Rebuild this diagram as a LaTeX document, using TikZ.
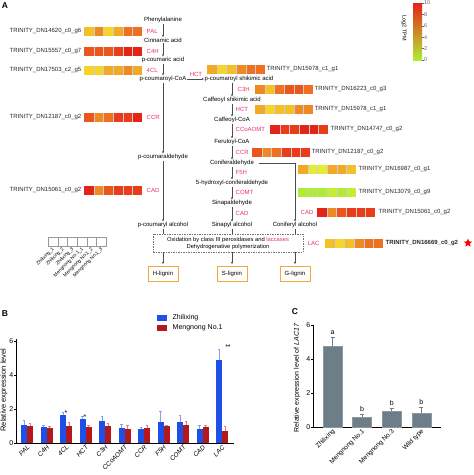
\documentclass[tikz,border=0pt]{standalone}
\usepackage{fontspec}
\setmainfont{Liberation Sans}
\usetikzlibrary{arrows.meta,positioning,shapes.geometric}
\definecolor{enz}{HTML}{E4326C}
\definecolor{hgr}{HTML}{B0EC34}
\definecolor{hlg}{HTML}{C2EE34}
\definecolor{hly}{HTML}{E6EC34}
\definecolor{hye}{HTML}{F6D42A}
\definecolor{hgo}{HTML}{F4C028}
\definecolor{hlo}{HTML}{F2AA26}
\definecolor{hor}{HTML}{EF8A22}
\definecolor{hdo}{HTML}{EE7020}
\definecolor{hro}{HTML}{EC561C}
\definecolor{hrd}{HTML}{E93C1A}
\definecolor{hdr}{HTML}{E52418}
\definecolor{ligbox}{HTML}{F2A93B}
\definecolor{zblue}{HTML}{1E4FE6}
\definecolor{mred}{HTML}{B3191C}
\definecolor{cbar}{HTML}{6E7E88}
\newcommand\heatrow[3]{%
  \foreach \hc [count=\i from 0] in {#3}
    \fill[\hc] ({#1+9.7*\i},{#2-4.5}) rectangle ++(9.7,9);
  \foreach \i in {1,...,5}
    \draw[white!80!black, line width=0.2pt] ({#1+9.7*\i},{#2-4.5}) -- ++(0,9);}

\begin{document}
\begin{tikzpicture}[x=1pt, y=-1pt,
    font=\fontsize{6}{7}\selectfont, inner sep=0.5pt,
    enzlab/.style={text=enz},
    gene/.style={text=black!85},
    path/.style={-{Stealth[length=2.4pt,width=2pt]}, draw=black!70, line width=0.35pt},
    link/.style={draw=black!70, line width=0.35pt},
    lig/.style={draw=ligbox, line width=0.9pt, minimum width=30, minimum height=15, inner sep=1pt},
    panel/.style={font=\fontsize{8.5}{9}\bfseries},
    tick/.style={font=\fontsize{7}{8}\selectfont}]
    \useasboundingbox (0,0) rectangle (474,475);
    \node[panel] (pA) at (5,6) {A};
    \node[gene, anchor=east] (g1) at (82,31) {TRINITY\_DN14620\_c0\_g6};
    \node[gene, anchor=east] (g2) at (82,51) {TRINITY\_DN15557\_c0\_g7};
    \node[gene, anchor=east] (g3) at (82,70) {TRINITY\_DN17503\_c2\_g5};
    \node[gene, anchor=east] (g4) at (82,117) {TRINITY\_DN12187\_c0\_g2};
    \node[gene, anchor=east] (g5) at (82,190) {TRINITY\_DN15061\_c0\_g2};
    \heatrow{84}{31}{hgo,hor,hye,hlo,hdo,hdo}
    \heatrow{84}{51}{hro,hro,hro,hrd,hdr,hdr}
    \heatrow{84}{70}{hye,hye,hlo,hlo,hor,hlo}
    \heatrow{84}{117}{hro,hor,hdo,hrd,hrd,hdr}
    \heatrow{84}{190}{hdr,hor,hro,hrd,hrd,hrd}
    \node[enzlab, anchor=west] (pal) at (146,31) {PAL};
    \node[enzlab, anchor=west] (c4h) at (146,51) {C4H};
    \node[enzlab, anchor=west] (fcl) at (146,70) {4CL};
    \node[enzlab, anchor=west] (ccra) at (146,117) {CCR};
    \node[enzlab, anchor=west] (cada) at (146,190) {CAD};
    \node (phe) at (163,20) {Phenylalanine};
    \node (cin) at (163,40) {Cinnamic acid};
    \node (pca) at (163,60) {p-coumaric acid};
    \node (pcoa) at (163,79) {p-coumaroyl-CoA};
    \node (pald) at (163,157) {p-coumaraldehyde};
    \node (palc) at (163,225) {p-coumaryl alcohol};
    \node (pcsa) at (239,79) {p-coumaroyl shikimic acid};
    \node (csa) at (232,100) {Caffeoyl shikimic acid};
    \node (ccoa) at (232,120) {Caffeoyl-CoA};
    \node (fcoa) at (232,142) {Feruloyl-CoA};
    \node (cald) at (232,163) {Coniferaldehyde};
    \node (hcald) at (232,183) {5-hydroxyl-coniferaldehyde};
    \node (sald) at (232,203) {Sinapaldehyde};
    \node (salc) at (232,225) {Sinapyl alcohol};
    \node (calc) at (295,225) {Coniferyl alcohol};
    \draw[path] (phe) -- (cin);
    \draw[path] (cin) -- (pca);
    \draw[path] (pca) -- (pcoa);
    \draw[path] (pcoa) -- (pald);
    \draw[path] (pald) -- (palc);
    \draw[path] (pcoa) -- (pcsa);
    \draw[path] (pcsa.south -| csa) -- (csa);
    \draw[path] (csa) -- (ccoa);
    \draw[path] (ccoa) -- (fcoa);
    \draw[path] (fcoa) -- (cald);
    \draw[path] (cald) -- (hcald);
    \draw[path] (hcald) -- (sald);
    \draw[path] (sald) -- (salc);
    \draw[path, shorten <=4pt] (cald.east) -| (calc.north);
    \node[enzlab] (hcta) at (196,74) {HCT};
    \node[enzlab, anchor=west] (c3h) at (237,89) {C3H};
    \node[enzlab, anchor=west] (hctb) at (235,109) {HCT};
    \node[enzlab, anchor=west] (ccoaomt) at (235,129) {CCoAOMT};
    \node[enzlab, anchor=west] (ccrb) at (235,152) {CCR};
    \node[enzlab, anchor=west] (f5h) at (235,172) {F5H};
    \node[enzlab, anchor=west] (comt) at (235,192) {COMT};
    \node[enzlab, anchor=west] (cadb) at (235,213) {CAD};
    \node[enzlab, anchor=west] (cadc) at (300,212) {CAD};
    \node[enzlab, anchor=west] (lac) at (307,243) {LAC};
    \heatrow{207}{69}{hlo,hye,hgo,hor,hdo,hdo}
    \heatrow{255}{89}{hor,hgo,hdo,hro,hro,hdo}
    \heatrow{255}{109}{hlo,hye,hgo,hgo,hor,hor}
    \heatrow{270}{129}{hdr,hrd,hrd,hdr,hdr,hrd}
    \heatrow{252}{152}{hro,hor,hdo,hrd,hrd,hrd}
    \heatrow{298}{169}{hlo,hly,hly,hlo,hlo,hgo}
    \heatrow{298}{192}{hgr,hgr,hgr,hlg,hgr,hlg}
    \heatrow{317}{212}{hdr,hor,hro,hrd,hrd,hrd}
    \heatrow{325}{243}{hgo,hye,hgo,hor,hdo,hdo}
    \node[gene, anchor=west] (g6) at (266,69) {TRINITY\_DN15978\_c1\_g1};
    \node[gene, anchor=west] (g7) at (314,89) {TRINITY\_DN16223\_c0\_g3};
    \node[gene, anchor=west] (g8) at (314,109) {TRINITY\_DN15978\_c1\_g1};
    \node[gene, anchor=west] (g9) at (330,129) {TRINITY\_DN14747\_c0\_g2};
    \node[gene, anchor=west] (g10) at (311,152) {TRINITY\_DN12187\_c0\_g2};
    \node[gene, anchor=west] (g11) at (358,169) {TRINITY\_DN16987\_c0\_g1};
    \node[gene, anchor=west] (g12) at (358,192) {TRINITY\_DN13079\_c0\_g9};
    \node[gene, anchor=west] (g13) at (378,212) {TRINITY\_DN15061\_c0\_g2};
    \node[gene, anchor=west, font=\fontsize{6}{7}\bfseries] (g14) at (385,243) {TRINITY\_DN16669\_c0\_g2};
    \node[star, star points=5, star point ratio=2.3, fill=red, minimum size=9, inner sep=0] (lacstar) at (468,243) {};
    \node[draw=black!55, dash pattern=on 1.5pt off 1pt, minimum width=150, minimum height=18,
      inner sep=0, align=center, font=\fontsize{5.8}{7}\selectfont] (ox) at (228,243)
      {Oxidation by class III peroxidases and \textcolor{enz}{laccases}\\Dehydrogenative polymerization};
    \draw[link] (palc) -- (palc |- ox.north);
    \draw[link] (salc) -- (salc |- ox.north);
    \draw[link] (calc) -- (calc |- ox.north);
    \node[lig] (hlig) at (163,274) {H-lignin};
    \node[lig] (slig) at (232,274) {S-lignin};
    \node[lig] (glig) at (295,274) {G-lignin};
    \draw[path, shorten >=2pt] (ox.south -| hlig) -- (hlig);
    \draw[path, shorten >=2pt] (ox.south -| slig) -- (slig);
    \draw[path, shorten >=2pt] (ox.south -| glig) -- (glig);
    \foreach \s [count=\i from 0] in {Zhilixing\_1,Zhilixing\_2,Zhilixing\_3,Mengnong No.1\_1,Mengnong No.1\_2,Mengnong No.1\_3} {
      \draw[black!40, line width=0.3pt] ({48+9.7*\i},237) rectangle ++(9.7,9);
      \node[rotate=45, anchor=east, font=\fontsize{4.8}{5}\selectfont] (smp\i) at ({54+9.7*\i},248) {\s};
    }
    \shade[top color=hdr, middle color=hye, bottom color=hgr] (413,3) rectangle (422,60);
    \foreach \v in {0,2,...,10}
      \draw[black!60, line width=0.3pt] (422,{60-5.7*\v}) -- ++(1.5,0) node[right, font=\fontsize{5.5}{6}\selectfont] (cb\v) {\v};
    \node[rotate=-90, font=\fontsize{5.5}{6}\selectfont] (cblab) at (404,28) {Log2 TPM};

    \node[panel] (pB) at (5,314) {B};
    \fill[zblue] (157,315) rectangle (167,321);
    \fill[mred] (157,325) rectangle (167,331);
    \node[anchor=west, tick] (legz) at (172,318) {Zhilixing};
    \node[anchor=west, tick] (legm) at (172,328) {Mengnong No.1};
    \draw[line width=0.5pt] (16,339) -- (16,443) -- (234,443);
    \foreach \v in {0,2,4,6}
      \draw[line width=0.5pt] (16,{443-17*\v}) -- ++(-2,0) node[left, tick] (yb\v) {\v};
    \node[rotate=90, font=\fontsize{7.5}{8}\selectfont] (ylabB) at (4,390) {Relative expression level};
    \foreach \g/\b/\be/\r/\re [count=\i from 0] in {PAL/1.05/1.35/1.0/1.15, C4H/0.97/1.07/0.9/0.97,
        4CL/1.65/1.8/1.0/1.2, HCT/1.4/1.6/0.92/1.05, C3H/1.32/1.6/1.0/1.15, CCoAOMT/0.87/1.08/0.82/1.05,
        CCR/0.82/0.95/0.9/1.05, F5H/1.25/1.85/1.0/1.05, COMT/1.22/1.62/1.05/1.27,
        CAD/0.82/1.03/0.95/1.03, LAC/4.9/5.5/0.68/0.98} {
      \pgfmathsetmacro\cx{27+19.5*\i}
      \fill[zblue] ({\cx-6},443) rectangle ({\cx},{443-17*\b});
      \fill[mred] ({\cx},443) rectangle ({\cx+6},{443-17*\r});
      \draw[zblue!55, line width=0.5pt] ({\cx-3},{443-17*\b}) -- ({\cx-3},{443-17*\be}) ++(-1.3,0) -- ++(2.6,0);
      \draw[mred!55, line width=0.5pt] ({\cx+3},{443-17*\r}) -- ({\cx+3},{443-17*\re}) ++(-1.3,0) -- ++(2.6,0);
      \node[rotate=45, anchor=east, font=\fontsize{6.5}{7}\itshape] (xb\i) at ({\cx+2},446) {\g};
    }
    \node[tick] (sig1) at (66,413) {*};
    \node[tick] (sig2) at (85,417) {*};
    \node[tick] (sig3) at (228,347) {**};

    \node[panel] (pC) at (295,312) {C};
    \draw[line width=0.5pt] (313,325) -- (313,427) -- (441,427);
    \foreach \v in {0,2,4,6}
      \draw[line width=0.5pt] (313,{427-17*\v}) -- ++(-2,0) node[left, tick] (yc\v) {\v};
    \node[rotate=90, font=\fontsize{7}{8}\selectfont] (ylabC) at (297,378) {Relative expression level of \textit{LAC17}};
    \foreach \g/\v/\e/\l [count=\i from 0] in {Zhilixing/4.76/5.3/a, Mengnong No.1/0.6/0.75/b,
        Mengnong No.3/0.95/1.1/b, Wild type/0.82/1.17/b} {
      \pgfmathsetmacro\cx{332.5+29.6*\i}
      \draw[cbar!80!white, fill=cbar, line width=0.3pt] ({\cx-9.5},427) rectangle ({\cx+9.5},{427-17*\v});
      \draw[cbar, line width=0.5pt] (\cx,{427-17*\v}) -- (\cx,{427-17*\e}) ++(-2,0) -- ++(4,0);
      \node[tick, anchor=south] (lc\i) at (\cx,{425-17*\e}) {\l};
      \node[rotate=45, anchor=east, font=\fontsize{6.5}{7}\selectfont] (xc\i) at ({\cx+2},430) {\g};
    }
\end{tikzpicture}
\end{document}
